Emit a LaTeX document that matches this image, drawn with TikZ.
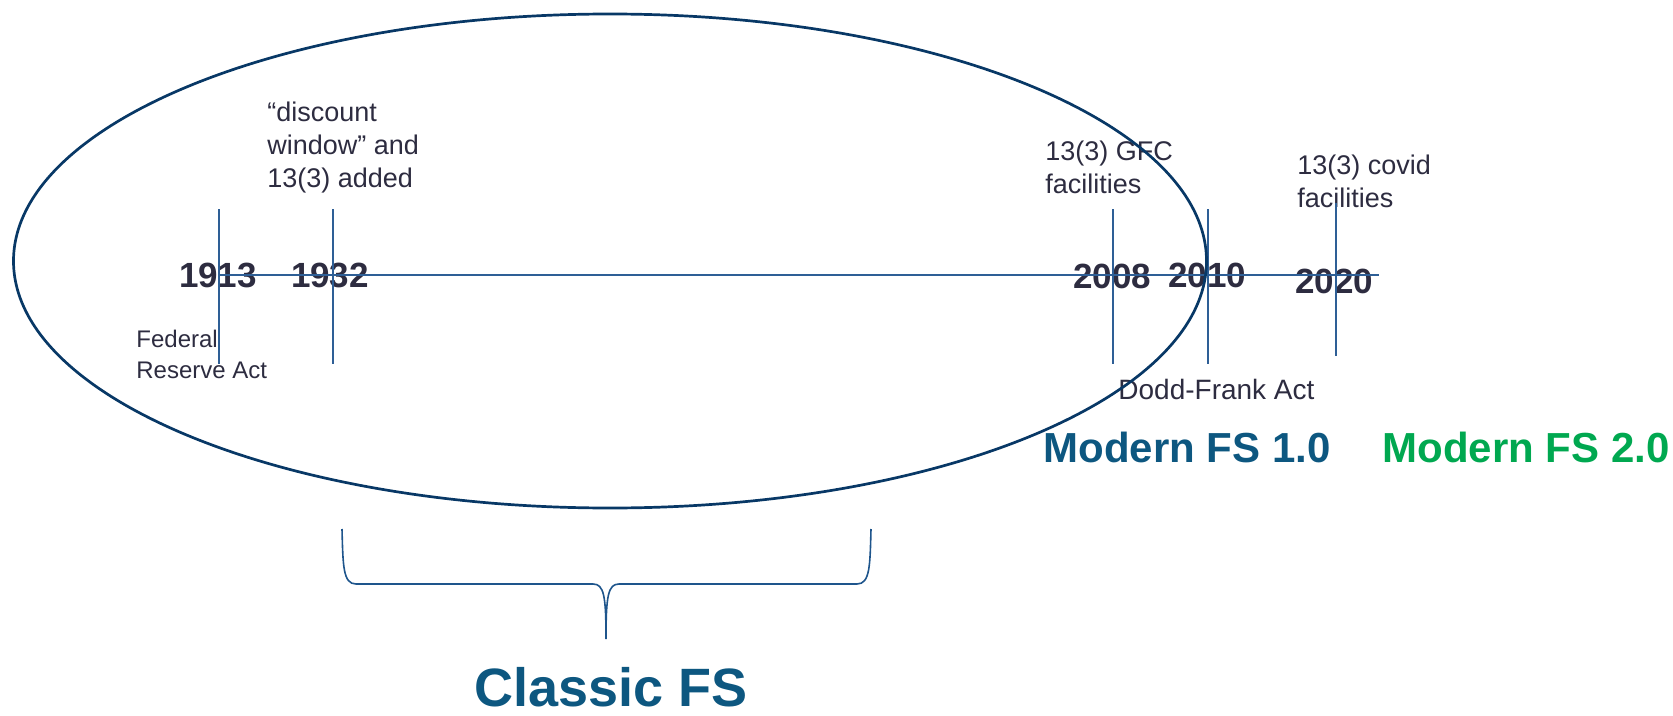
\documentclass[tikz,border=0pt]{standalone}
\usepackage{fontspec}
\setmainfont{Liberation Sans}
\usepackage{xcolor}
\usepackage{tikz}
\definecolor{fsnavy}{RGB}{8,56,102}
\definecolor{fsaxis}{RGB}{46,95,150}
\definecolor{fsink}{RGB}{45,44,64}
\definecolor{fsteal}{RGB}{13,87,128}
\definecolor{fsgreen}{RGB}{0,168,80}
\definecolor{fsbrace}{RGB}{30,85,140}
\tikzset{
  fsnote/.style={
    anchor=north west,
    inner sep=0pt,
    align=left,
    text=fsink,
    font=\fontsize{13.5bp}{16.5bp}\selectfont
  },
  fsyear/.style={inner sep=0pt, text=fsink, font=\fontsize{17.5bp}{20bp}\selectfont\bfseries},
  fsera/.style={anchor=north west, inner sep=0pt, font=\fontsize{21bp}{24bp}\selectfont\bfseries},
  fstick/.style={draw=fsaxis, line width=0.65bp},
  fsoval/.style={draw=fsnavy, line width=1.35bp},
  fsbracket/.style={draw=fsbrace, line width=0.8bp}
}

\begin{document}
\begin{tikzpicture}[x=0.5bp,y=-0.5bp]
\useasboundingbox (0,0) rectangle (1673,716);
% years on the time line
\node[fsyear] (y1913) at (218,275.5) {1913};
\node[fsyear] (y1932) at (330,275.5) {1932};
\node[fsyear] (y2008) at (1112,276) {2008};
\node[fsyear] (y2010) at (1207,275.5) {2010};
\node[fsyear] (y2020) at (1334,281) {2020};
% notes
\node[fsnote] (discount) at (267,102) {“discount\\window” and\\13(3) added};
\node[fsnote, font=\fontsize{12bp}{15.5bp}\selectfont] (fedact) at (136,330) {Federal\\Reserve Act};
\node[fsnote] (gfc) at (1045,141) {13(3) GFC\\facilities};
\node[fsnote] (covid) at (1297,155) {13(3) covid\\facilities};
\node[fsnote, font=\fontsize{14bp}{16.5bp}\selectfont] (dodd) at (1118,379) {Dodd-Frank Act};
% eras
\node[fsera, text=fsteal] (modern1) at (1043,432) {Modern FS 1.0};
\node[fsera, text=fsgreen] (modern2) at (1382,432) {Modern FS 2.0};
\node[anchor=north, inner sep=0pt, text=fsteal, font=\fontsize{27bp}{32bp}\selectfont\bfseries] (classic) at (611,667) {Classic FS};
% time line and ticks
\coordinate (tlstart) at (219,275);
\coordinate (tlend) at (1379,275);
\coordinate (a1913) at (219,209);
\coordinate (b1913) at (219,364);
\coordinate (a1932) at (333,209);
\coordinate (b1932) at (333,364);
\coordinate (a2008) at (1113,209);
\coordinate (b2008) at (1113,364);
\coordinate (a2010) at (1208,209);
\coordinate (b2010) at (1208,364);
\coordinate (a2020) at (1336,203);
\coordinate (b2020) at (1336,356);
\draw[fstick] (tlstart) -- (tlend);
\draw[fstick] (a1913) -- (b1913);
\draw[fstick] (a1932) -- (b1932);
\draw[fstick] (a2008) -- (b2008);
\draw[fstick] (a2010) -- (b2010);
\draw[fstick] (a2020) -- (b2020);
% classic era oval
\coordinate (ovalc) at (610,261);
\draw[fsoval] (ovalc) ellipse [x radius=596.5, y radius=247];
% brace
\coordinate (brl) at (342,529);
\coordinate (brr) at (871,529);
\coordinate (brtip) at (606,639);
\draw[fsbracket] (brl) .. controls (343,566) and (343,584) .. (356,584) -- (593,584)
  .. controls (604,584) and (606,596) .. (brtip)
  .. controls (606,596) and (608,584) .. (619,584) -- (857,584)
  .. controls (870,584) and (870,566) .. (brr);
\end{tikzpicture}
\end{document}
